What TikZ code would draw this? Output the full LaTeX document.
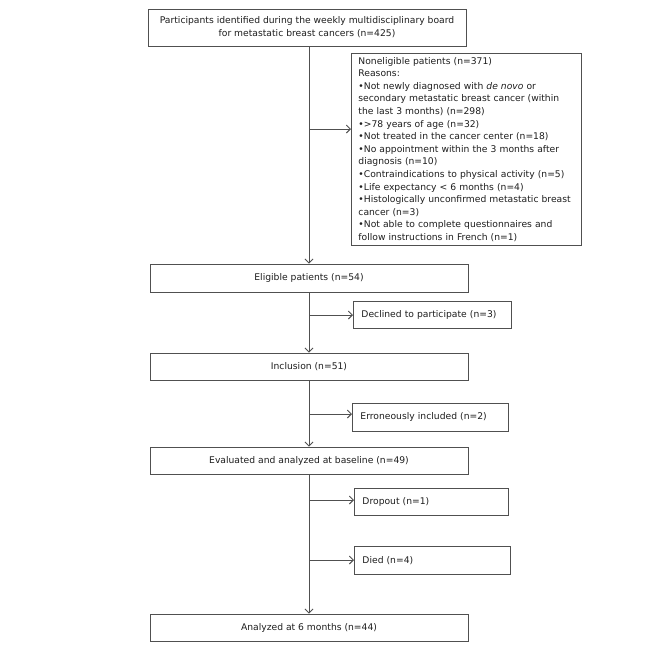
\documentclass[tikz,border=0pt]{standalone}
\usepackage{fontspec}
\setmainfont{DejaVu Sans}
\usetikzlibrary{arrows.meta}
\definecolor{ln}{RGB}{80,80,80}
\definecolor{tx}{RGB}{30,30,30}
\begin{document}
\begin{tikzpicture}[x=1pt,y=-1pt,
  box/.style={draw=ln, line width=0.9pt, inner sep=0pt, text=tx,
    font=\fontsize{9.2}{13}\selectfont},
  main/.style={box, minimum width=318pt, minimum height=27pt, align=center},
  side/.style={box, anchor=north west, align=left, inner xsep=8pt},
  arr/.style={draw=ln, line width=0.9pt, -{Straight Barb[length=4pt,width=8pt]}}]
\useasboundingbox (0,0) rectangle (666,649);
\fill[white] (0,0) rectangle (666,649);

\node[main, minimum height=37pt] (top) at (307,27.5)
  {Participants identified during the weekly multidisciplinary board\\for metastatic breast cancers (n=425)};
\node[main, minimum height=28pt] (elig) at (309,278) {Eligible patients (n=54)};
\node[main] (incl) at (309,366.5) {Inclusion (n=51)};
\node[main] (eval) at (309,460.5) {Evaluated and analyzed at baseline (n=49)};
\node[main] (anal) at (309,627.5) {Analyzed at 6 months (n=44)};

\node[side, text width=216pt, minimum height=192pt,
      font=\fontsize{9.2}{12.6}\selectfont, inner xsep=7pt] (non) at (351,53)
  {Noneligible patients (n=371)\\
   Reasons:\\
   •Not newly diagnosed with \textit{de novo} or\\
   secondary metastatic breast cancer (within\\
   the last 3 months) (n=298)\\
   •>78 years of age (n=32)\\
   •Not treated in the cancer center (n=18)\\
   •No appointment within the 3 months after\\
   diagnosis (n=10)\\
   •Contraindications to physical activity (n=5)\\
   •Life expectancy < 6 months (n=4)\\
   •Histologically unconfirmed metastatic breast\\
   cancer (n=3)\\
   •Not able to complete questionnaires and\\
   follow instructions in French (n=1)};
\node[side, text width=142pt, minimum height=27pt] (dec) at (353,301) {Declined to participate (n=3)};
\node[side, text width=140pt, minimum height=28pt] (err) at (352,403) {Erroneously included (n=2)};
\node[side, text width=138pt, minimum height=27pt] (drop) at (354,488) {Dropout (n=1)};
\node[side, text width=140pt, minimum height=28pt] (died) at (354,546) {Died (n=4)};

\coordinate (b1) at (309,129);
\coordinate (b2) at (309,315);
\coordinate (b3) at (309,414);
\coordinate (b4) at (309,500);
\coordinate (b5) at (309,560);

\draw[arr] (elig.north |- top.south) -- (elig.north);
\draw[arr] (elig.south) -- (incl.north);
\draw[arr] (incl.south) -- (eval.north);
\draw[arr] (eval.south) -- (anal.north);

\draw[arr] (b1) -- (b1 -| non.west);
\draw[arr] (b2) -- (b2 -| dec.west);
\draw[arr] (b3) -- (b3 -| err.west);
\draw[arr] (b4) -- (b4 -| drop.west);
\draw[arr] (b5) -- (b5 -| died.west);
\end{tikzpicture}
\end{document}
